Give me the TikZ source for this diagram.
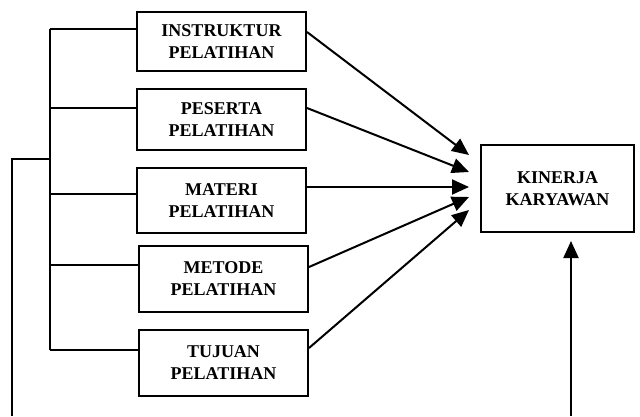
\documentclass[tikz,border=0pt]{standalone}
\usepackage{fontspec}
\setmainfont{Liberation Serif}
\usetikzlibrary{arrows.meta,calc}
\tikzset{faktor/.style={draw,line width=2pt,minimum width=169pt,align=center,inner sep=0pt,
    font=\bfseries\fontsize{18}{22}\selectfont},
  hasil/.style={faktor,minimum width=153pt,minimum height=87pt}}

\begin{document}
\begin{tikzpicture}[x=1pt,y=-1pt,line width=2pt,>={Triangle[length=17pt,width=15pt]}]
  \useasboundingbox (0,0) rectangle (640,416);
  \node[faktor,minimum height=59pt] (instruktur) at (221.5,41.5)  {INSTRUKTUR\\PELATIHAN};
  \node[faktor,minimum height=61pt] (peserta)    at (221.5,119.5) {PESERTA\\PELATIHAN};
  \node[faktor,minimum height=65pt] (materi)     at (221.5,200.5) {MATERI\\PELATIHAN};
  \node[faktor,minimum height=66pt] (metode)     at (223.5,279)   {METODE\\PELATIHAN};
  \node[faktor,minimum height=66pt] (tujuan)     at (223.5,363)   {TUJUAN\\PELATIHAN};
  \node[hasil] (kinerja) at (557.5,188.5) {KINERJA\\KARYAWAN};
  % kurung kiri
  \coordinate (atas)   at (50,29);
  \coordinate (ujung)  at (50,350);
  \coordinate (cabang) at (50,159);
  \coordinate (kiri)   at (12,416);
  \coordinate (bawah)  at (571,416);
  \draw (atas) -- (ujung);
  \foreach \n/\y in {instruktur/29,peserta/108,materi/194,metode/265,tujuan/350}
    \draw (50,\y) -- (\n.west |- 0,\y);
  \draw (kiri) |- (cabang);
  % panah ke kinerja
  \foreach \n/\a/\b in {instruktur/-9.5/-33.5,peserta/-11.5/-16.5,materi/-13.5/-1.5,metode/-12/8.5,tujuan/-15/21.5}
    \draw[->] ($(\n.east)+(0,\a)$) -- ($(kinerja.west)+(-11,\b)$);
  \draw[->] (bawah) -- ($(kinerja.south)+(13.5,8)$);
\end{tikzpicture}
\end{document}
